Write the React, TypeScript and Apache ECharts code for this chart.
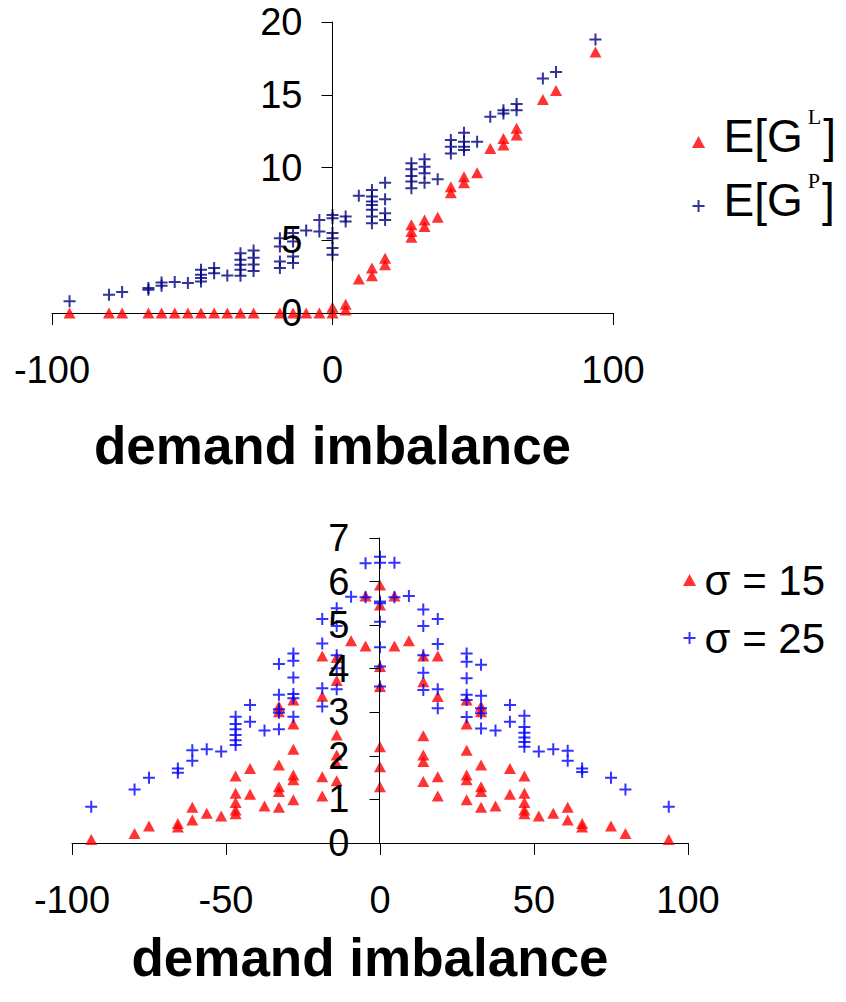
import React, { useEffect, useRef } from 'react';
import * as echarts from 'echarts';

const FONT = "'Liberation Sans', Arial, Helvetica, sans-serif";
const SERIF = "'Liberation Serif', 'Times New Roman', serif";
const TRI = 'path://M6,0L12,11L0,11Z';
const PLUS = 'path://M5,0H7V5H12V7H7V12H5V7H0V5H5Z';

// Top chart: expected gains vs demand imbalance
const topXTicks = [-100, 0, 100];
const topYTicks = [0, 5, 10, 15, 20];
const topSeriesNames = ['E[G^L]', 'E[G^P]'];

const expectedGL: [number, number][] = [
  [-93.75, 0], [-79.69, 0], [-75, 0], [-65.63, 0], [-60.94, 0], [-56.25, 0], [-51.56, 0],
  [-46.88, 0], [-42.19, 0], [-37.5, 0], [-32.81, 0], [-28.13, 0], [-18.75, 0], [-14.06, 0],
  [-9.38, 0], [-4.69, 0], [0, 0], [0, 0.4], [4.69, 0.2], [4.69, 0.6], [9.38, 2.33],
  [14.06, 2.56], [14.06, 3.09], [18.75, 3.31], [18.75, 3.77], [28.13, 5.21], [28.13, 5.6],
  [28.13, 6.06], [32.81, 5.94], [32.81, 6.4], [37.5, 6.58], [42.19, 8.27], [42.19, 8.68],
  [46.88, 8.96], [46.88, 9.37], [51.56, 9.64], [56.25, 11.3], [60.94, 11.54], [60.94, 12.0],
  [65.63, 12.23], [65.63, 12.69], [75, 14.68], [79.69, 15.3], [93.75, 17.94],
];

const expectedGP: [number, number][] = [
  [-93.75, 0.8], [-79.69, 1.26], [-75, 1.44], [-65.63, 1.6], [-65.63, 1.71], [-60.94, 1.87],
  [-60.94, 2.1], [-56.25, 2.13], [-51.56, 2.06], [-46.88, 2.17], [-46.88, 2.4], [-46.88, 2.63],
  [-46.88, 2.97], [-42.19, 2.74], [-42.19, 3.09], [-37.5, 2.58], [-32.81, 2.56], [-32.81, 2.97],
  [-32.81, 3.31], [-32.81, 3.66], [-32.81, 4.11], [-28.13, 2.88], [-28.13, 3.34], [-28.13, 3.8],
  [-28.13, 4.3], [-18.75, 3.09], [-18.75, 3.54], [-18.75, 4.57], [-18.75, 5.14], [-14.06, 3.43],
  [-14.06, 3.89], [-14.06, 4.91], [-14.06, 5.49], [-9.38, 5.67], [-4.69, 5.6], [-4.69, 6.4],
  [0, 4.0], [0, 4.46], [0, 5.14], [0, 5.49], [0, 6.52], [0, 6.74], [4.69, 6.29], [4.69, 6.63],
  [9.38, 8.05], [14.06, 6.17], [14.06, 6.63], [14.06, 7.09], [14.06, 7.43], [14.06, 7.66],
  [14.06, 8.0], [14.06, 8.46], [18.75, 6.4], [18.75, 6.86], [18.75, 7.82], [18.75, 8.96],
  [28.13, 8.57], [28.13, 9.03], [28.13, 9.42], [28.13, 9.88], [28.13, 10.29], [32.81, 8.96],
  [32.81, 9.6], [32.81, 10.06], [32.81, 10.56], [37.5, 9.19], [42.19, 10.97], [42.19, 11.43],
  [42.19, 11.89], [46.88, 11.2], [46.88, 11.43], [46.88, 11.77], [46.88, 12.39], [51.56, 11.77],
  [56.25, 13.49], [60.94, 13.71], [60.94, 13.94], [65.63, 13.94], [65.63, 14.36], [75, 16.12],
  [79.69, 16.57], [93.75, 18.79],
];

// Bottom chart: two sigma levels
const bottomXTicks = [-100, -50, 0, 50, 100];
const bottomYTicks = [0, 1, 2, 3, 4, 5, 6, 7];
const bottomSeriesNames = ['σ = 15', 'σ = 25'];

const sigma15: [number, number][] = [
  [-93.75, 0.08], [-79.69, 0.22], [-75, 0.39], [-65.63, 0.37], [-65.63, 0.45], [-60.94, 0.53],
  [-60.94, 0.82], [-56.25, 0.68], [-51.56, 0.62], [-46.88, 0.67], [-46.88, 0.76], [-46.88, 0.93],
  [-46.88, 1.14], [-46.88, 1.54], [-42.19, 1.12], [-42.19, 1.71], [-37.5, 0.85], [-32.81, 0.82],
  [-32.81, 1.18], [-32.81, 1.29], [-32.81, 1.79], [-32.81, 3.01], [-32.81, 3.14], [-28.13, 0.99],
  [-28.13, 1.45], [-28.13, 1.56], [-28.13, 2.15], [-28.13, 2.73], [-28.13, 3.28], [-18.75, 1.08],
  [-18.75, 1.52], [-18.75, 3.37], [-18.75, 4.29], [-14.06, 1.43], [-14.06, 1.83], [-14.06, 2.02],
  [-14.06, 2.48], [-14.06, 3.73], [-14.06, 4.26], [-9.38, 4.64], [-4.69, 4.52], [-4.69, 5.67],
  [0, 1.29], [0, 1.75], [0, 2.21], [0, 3.59], [0, 4.05], [0, 5.46], [0, 5.92],
  [4.69, 4.52], [4.69, 5.67], [9.38, 4.64], [14.06, 1.41], [14.06, 1.87], [14.06, 2.02],
  [14.06, 2.46], [14.06, 3.7], [14.06, 4.29], [18.75, 1.08], [18.75, 1.52], [18.75, 3.36],
  [18.75, 4.29], [28.13, 0.99], [28.13, 1.45], [28.13, 1.56], [28.13, 2.13], [28.13, 2.73],
  [28.13, 3.28], [32.81, 0.82], [32.81, 1.18], [32.81, 1.29], [32.81, 1.79], [32.81, 3.01],
  [32.81, 3.14], [37.5, 0.85], [42.19, 1.12], [42.19, 1.71], [46.88, 0.67], [46.88, 0.76],
  [46.88, 0.93], [46.88, 1.14], [46.88, 1.54], [51.56, 0.62], [56.25, 0.68], [60.94, 0.53],
  [60.94, 0.82], [65.63, 0.37], [65.63, 0.45], [75, 0.39], [79.69, 0.22], [93.75, 0.08],
];

const sigma25: [number, number][] = [
  [-93.75, 0.83], [-79.69, 1.23], [-75, 1.5], [-65.63, 1.61], [-65.63, 1.71], [-60.94, 1.89],
  [-60.94, 2.13], [-56.25, 2.15], [-51.56, 2.1], [-46.88, 2.25], [-46.88, 2.36], [-46.88, 2.48],
  [-46.88, 2.61], [-46.88, 2.73], [-46.88, 2.9], [-42.19, 2.78], [-42.19, 3.17], [-37.5, 2.58],
  [-32.81, 2.61], [-32.81, 2.99], [-32.81, 3.07], [-32.81, 3.4], [-32.81, 4.11], [-28.13, 2.9],
  [-28.13, 3.32], [-28.13, 3.42], [-28.13, 3.8], [-28.13, 4.18], [-28.13, 4.35], [-18.75, 3.13],
  [-18.75, 3.55], [-18.75, 4.58], [-18.75, 5.14], [-14.06, 3.53], [-14.06, 4.01], [-14.06, 4.31],
  [-14.06, 4.98], [-14.06, 5.39], [-9.38, 5.65], [-4.69, 5.64], [-4.69, 6.42], [0, 3.59],
  [0, 4.05], [0, 4.49], [0, 5.08], [0, 5.5], [0, 5.54], [0, 6.43], [0, 6.57], [4.69, 5.64],
  [4.69, 6.43], [9.38, 5.67], [14.06, 3.51], [14.06, 3.91], [14.06, 4.31], [14.06, 4.98],
  [14.06, 5.36], [18.75, 3.09], [18.75, 3.53], [18.75, 4.57], [18.75, 5.14], [28.13, 2.89],
  [28.13, 3.28], [28.13, 3.4], [28.13, 3.78], [28.13, 4.16], [28.13, 4.35], [32.81, 2.63],
  [32.81, 2.98], [32.81, 3.09], [32.81, 3.38], [32.81, 4.09], [37.5, 2.58], [42.19, 2.78],
  [42.19, 3.17], [46.88, 2.21], [46.88, 2.32], [46.88, 2.42], [46.88, 2.53], [46.88, 2.66],
  [46.88, 2.92], [51.56, 2.1], [56.25, 2.15], [60.94, 1.89], [60.94, 2.12], [65.63, 1.63],
  [65.63, 1.71], [75, 1.5], [79.69, 1.23], [93.75, 0.83],
];

const axisTitle = 'demand imbalance';

function valueAxisX(gridIndex: number, ticks: number[], nameGap: number, namePad: number[]) {
  return {
    gridIndex,
    type: 'value',
    min: ticks[0],
    max: ticks[ticks.length - 1],
    interval: ticks[1] - ticks[0],
    name: axisTitle,
    nameLocation: 'middle',
    nameGap,
    nameTextStyle: {
      fontFamily: FONT, fontSize: 53, fontWeight: 'bold', color: '#000', padding: namePad,
    },
    axisLine: { onZero: false, lineStyle: { color: '#000', width: 1 } },
    axisTick: { show: true, inside: false, length: 12, lineStyle: { color: '#000', width: 1 } },
    axisLabel: { margin: 38, fontSize: 38, fontFamily: FONT, color: '#000' },
    splitLine: { show: false },
  };
}

// y axis drawn through x = 0 (offset moves line, ticks and labels together)
function valueAxisY(gridIndex: number, ticks: number[], tickLen: number, offset: number) {
  return {
    gridIndex,
    type: 'value',
    position: 'left',
    offset,
    min: ticks[0],
    max: ticks[ticks.length - 1],
    interval: ticks[1] - ticks[0],
    z: 3,
    axisLine: { show: true, onZero: false, lineStyle: { color: '#000', width: 1 } },
    axisTick: { show: true, inside: false, length: tickLen, lineStyle: { color: '#000', width: 1 } },
    axisLabel: { margin: 30, fontSize: 38, fontFamily: FONT, color: '#000' },
    splitLine: { show: false },
  };
}

export default function App() {
  const ref = useRef<HTMLDivElement>(null);
  useEffect(() => {
    if (!ref.current) return;
    const chart = echarts.init(ref.current, null, { renderer: 'svg' });
    const supFmt = (name: string) =>
      name === topSeriesNames[0] ? '{a|E[G}{s|L}{a|]}' : '{a|E[G}{s|P}{a|]}';
    const option: any = {
      animation: false,
      backgroundColor: '#ffffff',
      grid: [
        { left: 52, top: 22, width: 561, height: 291 },
        { left: 72, top: 538, width: 616, height: 305 },
      ],
      xAxis: [
        valueAxisX(0, topXTicks, 106, [0, 0, 0, 0]),
        valueAxisX(1, bottomXTicks, 88, [0, 20, 0, 0]),
      ],
      yAxis: [valueAxisY(0, topYTicks, 11, -280.5), valueAxisY(1, bottomYTicks, 10, -307.5)],
      legend: [
        {
          orient: 'vertical',
          left: 692,
          top: 105,
          padding: 0,
          itemWidth: 40,
          itemHeight: 12,
          itemGap: -10,
          symbolKeepAspect: true,
          data: [
            { name: topSeriesNames[0], icon: TRI },
            { name: topSeriesNames[1], icon: PLUS },
          ],
          formatter: supFmt,
          textStyle: {
            fontFamily: FONT,
            fontSize: 46,
            lineHeight: 62,
            color: '#000',
            padding: [0, 0, 12, 0],
            rich: {
              a: { fontFamily: FONT, fontSize: 46, lineHeight: 62, color: '#000' },
              s: {
                fontFamily: SERIF, fontSize: 22, lineHeight: 22, verticalAlign: 'top',
                padding: [0, 2, 0, 5], color: '#000',
              },
            },
          },
        },
        {
          orient: 'vertical',
          left: 683,
          top: 553,
          padding: 0,
          itemWidth: 20,
          itemHeight: 12,
          itemGap: 4,
          symbolKeepAspect: true,
          data: [
            { name: bottomSeriesNames[0], icon: TRI },
            { name: bottomSeriesNames[1], icon: PLUS },
          ],
          textStyle: {
            fontFamily: FONT, fontSize: 42, lineHeight: 46, color: '#000', padding: [0, 0, 8, 0],
          },
        },
      ],
      series: [
        {
          name: topSeriesNames[0], type: 'scatter', xAxisIndex: 0, yAxisIndex: 0,
          data: expectedGL, symbol: TRI, symbolSize: [12, 11],
          itemStyle: { color: '#FF0000' },
        },
        {
          name: topSeriesNames[1], type: 'scatter', xAxisIndex: 0, yAxisIndex: 0,
          data: expectedGP, symbol: PLUS, symbolSize: 12,
          itemStyle: { color: '#000080' },
        },
        {
          name: bottomSeriesNames[0], type: 'scatter', xAxisIndex: 1, yAxisIndex: 1,
          data: sigma15, symbol: TRI, symbolSize: [12, 11],
          itemStyle: { color: '#FF0000' },
        },
        {
          name: bottomSeriesNames[1], type: 'scatter', xAxisIndex: 1, yAxisIndex: 1,
          data: sigma25, symbol: PLUS, symbolSize: 12,
          itemStyle: { color: '#0000FF' },
        },
      ],
    };
    chart.setOption(option);
    return () => chart.dispose();
  }, []);
  return (
    <div
      ref={ref}
      style={{ position: 'fixed', left: 0, top: 0, width: 846, height: 1002, background: '#fff' }}
    />
  );
}
